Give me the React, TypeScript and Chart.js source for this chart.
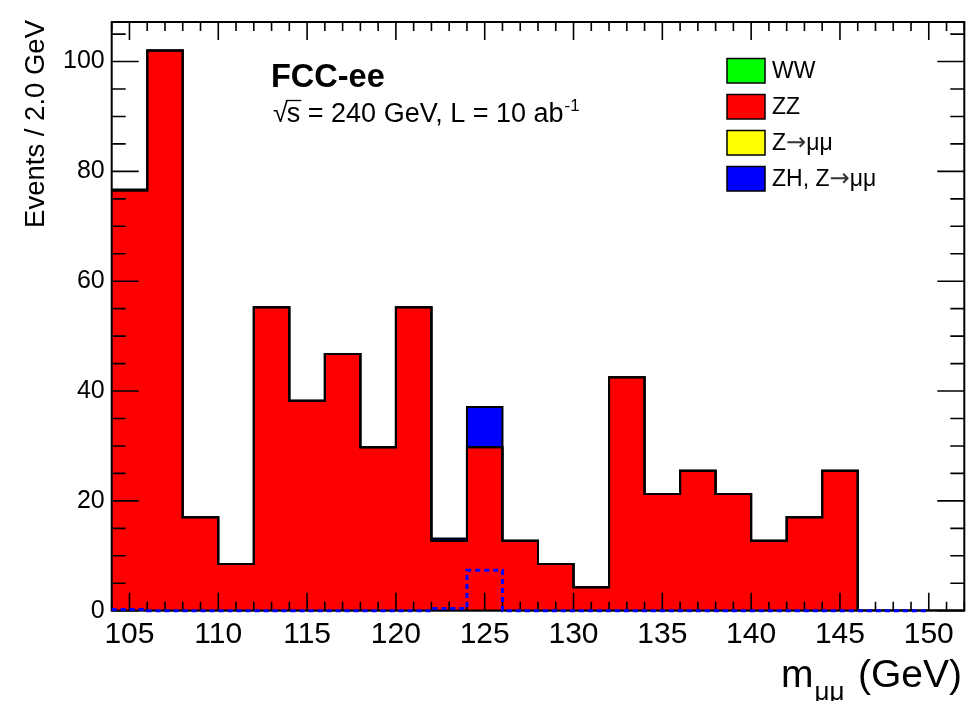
import React, { useEffect, useRef } from 'react';
import { Chart, registerables } from 'chart.js';

Chart.register(...registerables);

const FONT = '"Liberation Sans", Arial, Helvetica, sans-serif';
const ARROW_FONT = '"DejaVu Sans", "Liberation Sans", sans-serif';

// ---- data ----
const binLowEdges = [104, 106, 108, 110, 112, 114, 116, 118, 120, 122, 124, 126, 128, 130, 132, 134, 136, 138, 140, 142, 144, 146, 148, 150];
const binWidth = 2;
const wwValues = [0, 0, 0, 0, 0, 0, 0, 0, 0, 0, 0, 0, 0, 0, 0, 0, 0, 0, 0, 0, 0, 0, 0, 0];
const zzValues = [76.5, 102, 17, 8.5, 55.25, 38.25, 46.75, 29.75, 55.25, 12.75, 29.75, 12.75, 8.5, 4.25, 42.5, 21.25, 25.5, 21.25, 12.75, 17, 25.5, 0, 0, 0];
const zmumuValues = [0, 0, 0, 0, 0, 0, 0, 0, 0, 0, 0, 0, 0, 0, 0, 0, 0, 0, 0, 0, 0, 0, 0, 0];
const zhValues = [0.2, 0, 0, 0, 0, 0, 0, 0, 0, 0.4, 7.35, 0, 0, 0, 0, 0, 0, 0, 0, 0, 0, 0, 0, 0];
const signalBinsShown = 23; // dashed signal outline ends at 150 GeV

const xTickValues = [105, 110, 115, 120, 125, 130, 135, 140, 145, 150];
const yTickValues = [0, 20, 40, 60, 80, 100];
const legendLabels = ['WW', 'ZZ', 'Z\u2192\u03bc\u03bc', 'ZH, Z\u2192\u03bc\u03bc'];
const legendColors = ['#00ff00', '#ff0000', '#ffff00', '#0000ff'];

const X_MIN = 104;
const X_MAX = 152;
const Y_MAX = 107.2;

function stepPoints(values: number[], count: number) {
  const pts = values.slice(0, count).map((v, i) => ({ x: binLowEdges[i], y: v }));
  pts.push({ x: binLowEdges[count - 1] + binWidth, y: values[count - 1] });
  return pts;
}

function cumulative(...series: number[][]) {
  return series[0].map((_, i) => series.reduce((s, arr) => s + arr[i], 0));
}

function drawLabelWithArrow(ctx: CanvasRenderingContext2D, label: string, x: number, y: number, size: number) {
  const parts = label.split('\u2192');
  let cx = x;
  parts.forEach((p, i) => {
    if (i > 0) {
      ctx.font = `${size * 1.05}px ${ARROW_FONT}`;
      ctx.fillStyle = '#333';
      ctx.fillText('\u2192', cx, y);
      cx += ctx.measureText('\u2192').width;
      ctx.fillStyle = '#000';
    }
    ctx.font = `${size}px ${FONT}`;
    ctx.fillText(p, cx, y);
    cx += ctx.measureText(p).width;
  });
}

const rootPlugin = {
  id: 'rootStyle',
  beforeDatasetDraw(chart: any, args: any) {
    if (args.index !== 0) return;
    const { ctx, chartArea: a, scales } = chart;
    const xs = scales.x;
    const ys = scales.y;
    ctx.save();
    ctx.strokeStyle = '#000';
    ctx.lineWidth = 2;
    ctx.strokeRect(a.left, a.top, a.right - a.left, a.bottom - a.top);
    ctx.lineWidth = 1.6;
    ctx.beginPath();
    for (let v = X_MIN; v <= X_MAX; v += 1) {
      const px = xs.getPixelForValue(v);
      const len = xTickValues.includes(v) ? 18 : 9;
      ctx.moveTo(px, a.bottom);
      ctx.lineTo(px, a.bottom - len);
      ctx.moveTo(px, a.top);
      ctx.lineTo(px, a.top + len);
    }
    for (let v = 0; v <= Y_MAX; v += 5) {
      const py = ys.getPixelForValue(v);
      const len = yTickValues.includes(v) ? 27 : 14;
      ctx.moveTo(a.left, py);
      ctx.lineTo(a.left + len, py);
      ctx.moveTo(a.right, py);
      ctx.lineTo(a.right - len, py);
    }
    ctx.stroke();
    ctx.restore();
  },
  afterDraw(chart: any) {
    const { ctx } = chart;
    ctx.save();
    ctx.fillStyle = '#000';
    ctx.textAlign = 'left';
    ctx.textBaseline = 'alphabetic';

    // FCC-ee
    ctx.font = `bold 32.5px ${FONT}`;
    ctx.fillText('FCC-ee', 271, 87);

    // sqrt(s) line
    ctx.font = `27px ${FONT}`;
    let x = 273;
    const by = 121.5;
    ctx.fillText('\u221a', x, by);
    const wr = ctx.measureText('\u221a').width;
    x += wr - 1;
    ctx.fillText('s', x, by);
    const ws = ctx.measureText('s').width;
    ctx.strokeStyle = '#000';
    ctx.lineWidth = 1.3;
    ctx.beginPath();
    ctx.moveTo(x - 1, by - 21);
    ctx.lineTo(x + ws + 1, by - 21);
    ctx.stroke();
    x += ws;
    const rest = ' = 240 GeV, L = 10 ab';
    ctx.fillText(rest, x, by);
    x += ctx.measureText(rest).width;
    ctx.font = `17px ${FONT}`;
    ctx.fillText('-1', x + 1, by - 11);

    // y title
    ctx.save();
    ctx.font = `27.5px ${FONT}`;
    ctx.translate(43.5, 20);
    ctx.rotate(-Math.PI / 2);
    ctx.textAlign = 'right';
    ctx.fillText('Events / 2.0 GeV', 0, 0);
    ctx.restore();

    // x title: m_{mu mu} (GeV)
    ctx.font = `39px ${FONT}`;
    const tx = 781;
    const tb = 687;
    ctx.fillText('m', tx, tb);
    const mw = ctx.measureText('m').width + 1;
    ctx.font = `26px ${FONT}`;
    ctx.fillText('\u03bc\u03bc', tx + mw, tb + 13);
    ctx.font = `39px ${FONT}`;
    ctx.textAlign = 'right';
    ctx.fillText('(GeV)', 962, tb);
    ctx.textAlign = 'left';

    // legend
    const boxX = 727;
    const boxW = 38;
    const boxH = 24.5;
    legendLabels.forEach((label, i) => {
      const top = 58.5 + i * 36;
      ctx.fillStyle = legendColors[i];
      ctx.fillRect(boxX, top, boxW, boxH);
      ctx.strokeStyle = '#000';
      ctx.lineWidth = 1.5;
      ctx.strokeRect(boxX, top, boxW, boxH);
      ctx.fillStyle = '#000';
      ctx.textBaseline = 'middle';
      drawLabelWithArrow(ctx, label, 772, top + boxH / 2 + 1, 23);
      ctx.textBaseline = 'alphabetic';
    });

    ctx.restore();
  },
};

export default function App() {
  const canvasRef = useRef<HTMLCanvasElement | null>(null);

  useEffect(() => {
    document.body.style.margin = '0';
    const canvas = canvasRef.current;
    if (!canvas) return;

    const layerWW = cumulative(wwValues);
    const layerZZ = cumulative(wwValues, zzValues);
    const layerZmumu = cumulative(wwValues, zzValues, zmumuValues);
    const layerZH = cumulative(wwValues, zzValues, zmumuValues, zhValues);
    const nAll = binLowEdges.length;

    const lineBase = {
      stepped: 'before' as const,
      pointRadius: 0,
      pointHoverRadius: 0,
      borderColor: '#000',
      borderWidth: 2,
      tension: 0,
    };

    const chart = new Chart(canvas, {
      type: 'line',
      data: {
        datasets: [
          {
            ...lineBase,
            label: 'ZH signal',
            data: stepPoints(zhValues, signalBinsShown),
            borderColor: '#0000ff',
            borderWidth: 3,
            borderDash: [5, 4],
            fill: false,
            clip: 6,
          },
          {
            ...lineBase,
            label: legendLabels[3],
            data: stepPoints(layerZH, nAll),
            backgroundColor: legendColors[3],
            fill: '+1',
          },
          {
            ...lineBase,
            label: legendLabels[2],
            data: stepPoints(layerZmumu, nAll),
            backgroundColor: legendColors[2],
            fill: '+1',
          },
          {
            ...lineBase,
            label: legendLabels[1],
            data: stepPoints(layerZZ, nAll),
            backgroundColor: legendColors[1],
            fill: '+1',
          },
          {
            ...lineBase,
            label: legendLabels[0],
            data: stepPoints(layerWW, nAll),
            backgroundColor: legendColors[0],
            fill: 'origin',
          },
        ],
      },
      options: {
        responsive: false,
        animation: false,
        devicePixelRatio: 1,
        layout: { padding: { top: 15, right: 5.7, left: 0, bottom: 0 } },
        plugins: {
          legend: { display: false },
          tooltip: { enabled: false },
          filler: { drawTime: 'beforeDatasetsDraw' },
        },
        scales: {
          x: {
            type: 'linear',
            min: X_MIN,
            max: X_MAX,
            grid: { display: false, drawTicks: false },
            border: { display: false },
            ticks: {
              autoSkip: false,
              maxRotation: 0,
              color: '#000',
              padding: 6,
              font: { family: FONT, size: 30 },
            },
            afterBuildTicks: (s: any) => {
              s.ticks = xTickValues.map((v) => ({ value: v }));
            },
            afterFit: (s: any) => {
              s.height = 90.3;
            },
          },
          y: {
            type: 'linear',
            min: 0,
            max: Y_MAX,
            grid: { display: false, drawTicks: false },
            border: { display: false },
            ticks: {
              includeBounds: false,
              color: '#000',
              padding: 7,
              font: { family: FONT, size: 25 },
            },
            afterBuildTicks: (s: any) => {
              s.ticks = yTickValues.map((v) => ({ value: v }));
            },
            afterFit: (s: any) => {
              s.width = 111.7;
            },
          },
        },
      },
      plugins: [rootPlugin],
    } as any);

    return () => chart.destroy();
  }, []);

  return (
    <div style={{ width: 970, height: 701, background: '#fff' }}>
      <canvas ref={canvasRef} width={970} height={701} style={{ display: 'block' }} />
    </div>
  );
}
